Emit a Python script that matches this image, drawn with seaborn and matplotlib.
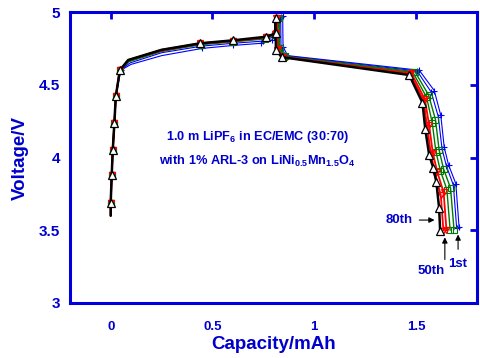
import matplotlib
matplotlib.use("Agg")
import matplotlib.pyplot as plt
import seaborn as sns
import pandas as pd

# ---- data ----
cycles = ["1st", "2nd", "10th", "20th", "30th", "50th", "80th"]

cap_1st = [0.000, 0.000, 0.005, 0.010, 0.018, 0.025, 0.050, 0.100, 0.250, 0.450, 0.600, 0.740, 0.795, 0.845, 0.847, 0.870, 1.516, 1.590, 1.622, 1.639, 1.660, 1.696, 1.712]
v_1st   = [3.60, 3.69, 3.88, 4.05, 4.235, 4.42, 4.60, 4.64, 4.70, 4.750, 4.770, 4.785, 4.810, 4.970, 4.760, 4.700, 4.600, 4.460, 4.290, 4.070, 3.950, 3.820, 3.520]

cap_2nd = [0.000, 0.000, 0.005, 0.010, 0.018, 0.025, 0.048, 0.095, 0.250, 0.445, 0.600, 0.750, 0.800, 0.835, 0.837, 0.862, 1.505, 1.575, 1.610, 1.628, 1.650, 1.684, 1.700]
v_2nd   = [3.60, 3.69, 3.88, 4.05, 4.235, 4.42, 4.60, 4.65, 4.72, 4.765, 4.785, 4.800, 4.830, 4.965, 4.755, 4.698, 4.595, 4.450, 4.280, 4.060, 3.940, 3.810, 3.515]

cap_10th = [0.000, 0.000, 0.005, 0.010, 0.018, 0.025, 0.046, 0.090, 0.250, 0.442, 0.600, 0.760, 0.805, 0.828, 0.830, 0.855, 1.495, 1.562, 1.596, 1.614, 1.636, 1.670, 1.687]
v_10th   = [3.60, 3.69, 3.88, 4.05, 4.235, 4.42, 4.60, 4.66, 4.73, 4.775, 4.795, 4.815, 4.845, 4.960, 4.750, 4.695, 4.590, 4.430, 4.260, 4.050, 3.920, 3.790, 3.505]

cap_20th = [0.000, 0.000, 0.005, 0.010, 0.018, 0.025, 0.046, 0.088, 0.250, 0.441, 0.600, 0.762, 0.808, 0.822, 0.824, 0.850, 1.485, 1.552, 1.580, 1.598, 1.620, 1.652, 1.668]
v_20th   = [3.60, 3.69, 3.88, 4.05, 4.235, 4.42, 4.60, 4.66, 4.73, 4.780, 4.798, 4.820, 4.850, 4.958, 4.748, 4.693, 4.585, 4.415, 4.240, 4.040, 3.910, 3.780, 3.500]

cap_30th = [0.000, 0.000, 0.005, 0.010, 0.018, 0.025, 0.045, 0.087, 0.250, 0.440, 0.600, 0.764, 0.809, 0.818, 0.820, 0.846, 1.478, 1.544, 1.565, 1.583, 1.605, 1.636, 1.650]
v_30th   = [3.60, 3.69, 3.88, 4.05, 4.235, 4.42, 4.60, 4.67, 4.735, 4.783, 4.800, 4.825, 4.852, 4.958, 4.745, 4.692, 4.578, 4.400, 4.220, 4.030, 3.900, 3.760, 3.500]

cap_50th = [0.000, 0.000, 0.005, 0.010, 0.018, 0.025, 0.045, 0.086, 0.250, 0.440, 0.600, 0.765, 0.810, 0.814, 0.816, 0.843, 1.472, 1.538, 1.555, 1.574, 1.594, 1.622, 1.635]
v_50th   = [3.60, 3.69, 3.88, 4.05, 4.235, 4.42, 4.60, 4.67, 4.74, 4.785, 4.802, 4.828, 4.853, 4.957, 4.742, 4.690, 4.572, 4.390, 4.205, 4.022, 3.890, 3.740, 3.498]

cap_80th = [0.000, 0.000, 0.005, 0.010, 0.018, 0.025, 0.045, 0.086, 0.250, 0.440, 0.600, 0.765, 0.810, 0.810, 0.812, 0.840, 1.467, 1.532, 1.546, 1.565, 1.585, 1.600, 1.614, 1.619]
v_80th   = [3.60, 3.69, 3.88, 4.05, 4.235, 4.42, 4.60, 4.67, 4.74, 4.785, 4.805, 4.830, 4.853, 4.957, 4.740, 4.690, 4.567, 4.377, 4.194, 4.017, 3.930, 3.834, 3.651, 3.494]

text_line1 = "1.0 m LiPF$_6$ in EC/EMC (30:70)"
text_line2 = "with 1% ARL-3 on LiNi$_{0.5}$Mn$_{1.5}$O$_4$"
x_ticks = [0, 0.5, 1, 1.5]
x_tick_labels = ["0", "0.5", "1", "1.5"]
y_ticks = [3, 3.5, 4, 4.5, 5]
y_tick_labels = ["3", "3.5", "4", "4.5", "5"]

series = {
    "1st": (cap_1st, v_1st), "2nd": (cap_2nd, v_2nd), "10th": (cap_10th, v_10th),
    "20th": (cap_20th, v_20th), "30th": (cap_30th, v_30th), "50th": (cap_50th, v_50th),
    "80th": (cap_80th, v_80th),
}

# ---- style ----
sns.set_style("white")
plt.rcParams["font.family"] = ["Liberation Sans", "DejaVu Sans"]
plt.rcParams["mathtext.default"] = "regular"
BLUE_TXT = "#0000cc"
SPINE = "#0000dd"

styles = {
    "1st":  dict(color="#0000ff", lw=0.8, marker="+", ms=4, mew=0.8, mfc="none"),
    "2nd":  dict(color="#0000ff", lw=0.8, marker="+", ms=4, mew=0.8, mfc="none"),
    "10th": dict(color="#007a00", lw=1.0, marker="s", ms=4.5, mew=0.8, mfc="none"),
    "20th": dict(color="#007a00", lw=1.0, marker="s", ms=4.5, mew=0.8, mfc="none"),
    "30th": dict(color="#ff0000", lw=1.3, marker="v", ms=5, mew=0.9, mfc="none"),
    "50th": dict(color="#ff0000", lw=1.3, marker="v", ms=5, mew=0.9, mfc="none"),
    "80th": dict(color="#000000", lw=1.8, marker="^", ms=5.5, mew=0.9, mfc="white"),
}

fig, ax = plt.subplots(figsize=(4.8, 3.58), dpi=100)
fig.subplots_adjust(left=70/480, right=477/480, top=1-12/358, bottom=1-303/358)

for name in cycles:
    cx, vy = series[name]
    df = pd.DataFrame({"cap": cx, "v": vy})
    st = styles[name]
    n = len(cx)
    marks = [i for i in range(1, n) if i not in (7, 8)]
    sns.lineplot(data=df, x="cap", y="v", sort=False, estimator=None, ax=ax,
                 color=st["color"], lw=st["lw"], marker=st["marker"], ms=st["ms"],
                 mew=st["mew"], mfc=st["mfc"], mec=st["color"], markevery=marks,
                 legend=False)

ax.set_xlim(-0.2, 1.8)
ax.set_ylim(3, 5)
ax.set_xticks(x_ticks)
ax.set_xticklabels(x_tick_labels)
ax.set_yticks(y_ticks)
ax.set_yticklabels(y_tick_labels)

for sp in ax.spines.values():
    sp.set_color(SPINE)
    sp.set_linewidth(2.2)
    sp.set_visible(True)

ax.tick_params(axis="both", direction="in", top=True, right=True, length=5, width=2,
               color=SPINE, labelcolor=BLUE_TXT)
ax.tick_params(axis="x", labelsize=9.5, pad=13)
ax.tick_params(axis="y", labelsize=11, pad=7)
for lab in ax.get_xticklabels() + ax.get_yticklabels():
    lab.set_fontweight("bold")

ax.set_xlabel("Capacity/mAh", fontsize=13.5, fontweight="bold", color=BLUE_TXT, labelpad=2)
ax.set_ylabel("Voltage/V", fontsize=13.5, fontweight="bold", color=BLUE_TXT, labelpad=7)

ax.text(0.722, 4.141, text_line1, ha="center", va="center", fontsize=9.2,
        fontweight="bold", color=BLUE_TXT)
ax.text(0.72, 3.975, text_line2, ha="center", va="center", fontsize=9.2,
        fontweight="bold", color=BLUE_TXT)

akw = dict(arrowstyle="-|>", color="black", lw=0.8, mutation_scale=8)
ax.annotate("80th", xy=(1.605, 3.57), xytext=(1.42, 3.57), ha="center", va="center",
            fontsize=9.5, fontweight="bold", color=BLUE_TXT, arrowprops=akw)
ax.annotate("", xy=(1.642, 3.47), xytext=(1.642, 3.28), arrowprops=akw)
ax.text(1.573, 3.222, "50th", ha="center", va="center", fontsize=9.5,
        fontweight="bold", color=BLUE_TXT)
ax.annotate("", xy=(1.707, 3.49), xytext=(1.707, 3.35), arrowprops=akw)
ax.text(1.707, 3.268, "1st", ha="center", va="center", fontsize=9.5,
        fontweight="bold", color=BLUE_TXT)

fig.savefig("out.png", dpi=100)
